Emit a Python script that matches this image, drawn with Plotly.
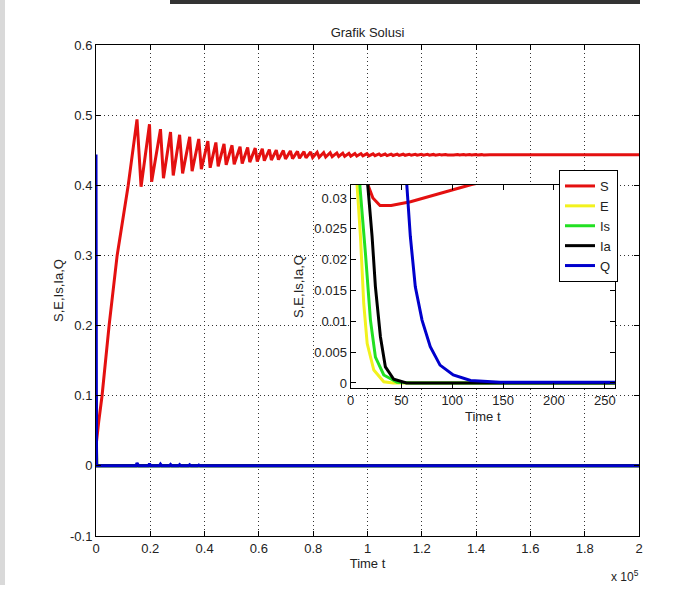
import plotly.graph_objects as go

# ---------------- data ----------------
# S : start, dip (seen in the inset) and first rise
s_early_t = [0, 8, 17, 22, 29, 40, 59, 90, 119, 200, 260, 1000, 2230, 4820, 7790, 11870]
s_early_v = [0.045, 0.038, 0.0322, 0.0300, 0.0288, 0.0288, 0.0294, 0.0308, 0.0322,
             0.0350, 0.0370, 0.063, 0.100, 0.200, 0.300, 0.400]

# S : damped oscillation (peaks and troughs)
s_peak_t = [15100, 19700, 23750, 27450, 30800, 34500, 37850, 41200, 44150, 47150,
            50100, 53050, 55850, 58650, 61250, 63850, 66400, 69000, 71600, 74200,
            76600, 79050, 81450, 83850, 86250, 88700, 90900, 93150, 95350, 97600,
            99800, 102050, 104250, 106500, 108700, 110950, 113150, 115400, 117600, 119850,
            122100, 124300, 126550, 128750, 131000, 133200, 135450, 137650, 139900, 142100]
s_peak_v = [0.494, 0.487, 0.480, 0.476, 0.472, 0.469, 0.466, 0.463, 0.461, 0.459,
            0.457, 0.455, 0.454, 0.453, 0.452, 0.451, 0.4502, 0.4495, 0.4490, 0.4484,
            0.4479, 0.4475, 0.4471, 0.4467, 0.4464, 0.4461, 0.4458, 0.4456, 0.4454, 0.4452,
            0.4450, 0.4449, 0.4447, 0.4446, 0.4445, 0.4444, 0.4443, 0.4442, 0.4442, 0.4441,
            0.4441, 0.4440, 0.4440, 0.4439, 0.4439, 0.4439, 0.4438, 0.4438, 0.4438, 0.4437]
s_trough_t = [16600, 20500, 24850, 28450, 31900, 35400, 38800, 42050, 45000, 47950,
              50900, 53850, 56650, 59400, 62000, 64600, 67200, 69800, 72400, 74950,
              77350, 79800, 82200, 84600, 87000, 89400, 91600, 93850, 96050, 98300,
              100500, 102750, 104950, 107200, 109400, 111650, 113850, 116100, 118300, 120550,
              122800, 125000, 127250, 129450, 131700, 133900, 136150, 138350, 140600, 142800]
s_trough_v = [0.398, 0.405, 0.410, 0.414, 0.417, 0.420, 0.423, 0.425, 0.427, 0.429,
              0.430, 0.431, 0.433, 0.434, 0.435, 0.436, 0.4367, 0.4375, 0.4380, 0.4386,
              0.4391, 0.4396, 0.4400, 0.4403, 0.4407, 0.4410, 0.4412, 0.4415, 0.4417, 0.4419,
              0.4420, 0.4422, 0.4423, 0.4424, 0.4425, 0.4426, 0.4427, 0.4428, 0.4429, 0.4429,
              0.4430, 0.4430, 0.4431, 0.4431, 0.4432, 0.4432, 0.4432, 0.4433, 0.4433, 0.4433]
s_late_t = [145000, 200000]
s_late_v = [0.4435, 0.4435]

# E, Is, Ia : fast decay to zero
e_t = [0, 6.5, 9.8, 13, 16.4, 22.9, 32.7, 42, 260, 200000]
e_v = [0.06, 0.032, 0.0237, 0.0129, 0.0064, 0.0021, 0.0002, 0, 0, 0]
is_t = [0, 9.2, 14.7, 19.6, 24.5, 32.7, 45.8, 60, 260, 200000]
is_v = [0.07, 0.032, 0.021, 0.0102, 0.0042, 0.0013, 0.0001, 0, 0, 0]
ia_t = [0, 17, 21.2, 24.5, 29.4, 34.3, 42.5, 55, 260, 200000]
ia_v = [0.10, 0.032, 0.0238, 0.0156, 0.0075, 0.0026, 0.0006, 0, 0, 0]

# Q : starts at 0.444, decays, small bumps during the S oscillation
q_t = [0, 20, 40, 50, 55, 58.8, 63.7, 70.3, 78.4, 88, 101, 118, 147, 180,
       14700, 15100, 15700, 19300, 19700, 20200, 23350, 23750, 24250,
       27050, 27450, 27950, 30400, 30800, 31300, 34100, 34500, 35000,
       37450, 37850, 38350, 200000]
q_v = [0.444, 0.2, 0.075, 0.045, 0.032, 0.0238, 0.0156, 0.0102, 0.0059, 0.0029, 0.0013,
       0.0004, 0.0001, 0, 0, 0.004, 0, 0, 0.003, 0, 0, 0.0025, 0,
       0, 0.002, 0, 0, 0.0018, 0, 0, 0.0015, 0, 0, 0.0012, 0, 0]

names = ['S', 'E', 'Is', 'Ia', 'Q']
colors = ['#e41010', '#f2f21e', '#22e022', '#000000', '#0000cc']

main_xticks = [0, 20000, 40000, 60000, 80000, 100000, 120000, 140000, 160000, 180000, 200000]
main_xlabels = ['0', '0.2', '0.4', '0.6', '0.8', '1', '1.2', '1.4', '1.6', '1.8', '2']
main_yticks = [-0.1, 0, 0.1, 0.2, 0.3, 0.4, 0.5, 0.6]
main_ylabels = ['-0.1', '0', '0.1', '0.2', '0.3', '0.4', '0.5', '0.6']
inset_xticks = [0, 50, 100, 150, 200, 250]
inset_yticks = [0, 0.005, 0.01, 0.015, 0.02, 0.025, 0.03]
inset_ylabels = ['0', '0.005', '0.01', '0.015', '0.02', '0.025', '0.03']

# ---------------- build series ----------------
osc_t, osc_v = [], []
for pt, pv, tt, tv in zip(s_peak_t, s_peak_v, s_trough_t, s_trough_v):
    osc_t += [pt, tt]
    osc_v += [pv, tv]
s_t = s_early_t + osc_t + s_late_t
s_v = s_early_v + osc_v + s_late_v

series = [(s_t, s_v), (e_t, e_v), (is_t, is_v), (ia_t, ia_v), (q_t, q_v)]

fig = go.Figure()
for (t, v), name, c in zip(series, names, colors):
    fig.add_trace(go.Scatter(x=t, y=v, mode='lines', name=name,
                             line=dict(color=c, width=3), xaxis='x', yaxis='y'))
for (t, v), name, c in zip(series, names, colors):
    fig.add_trace(go.Scatter(x=t, y=v, mode='lines', name=name, showlegend=False,
                             line=dict(color=c, width=3), xaxis='x2', yaxis='y2'))

FONT = 'Liberation Sans, Arial, Helvetica, sans-serif'
TXT = '#222222'

axis_common = dict(ticks='inside', ticklen=5, tickcolor='black', showline=True,
                   linecolor='black', linewidth=1, mirror='ticks', zeroline=False,
                   tickfont=dict(family=FONT, size=13, color=TXT))

fig.update_layout(
    width=696, height=597,
    margin=dict(l=96, r=57, t=45, b=61),
    paper_bgcolor='white', plot_bgcolor='white',
    font=dict(family=FONT, size=13, color=TXT),
    title=dict(text='Grafik Solusi', x=0.5, xref='paper', xanchor='center',
               y=1 - 32 / 597, yref='container', yanchor='middle',
               font=dict(family=FONT, size=13, color=TXT)),
    xaxis=dict(range=[0, 200000], tickvals=main_xticks, ticktext=main_xlabels,
               showgrid=True, gridcolor='#333333', gridwidth=1, griddash='1px,3px',
               title=dict(text='Time t', standoff=4, font=dict(family=FONT, size=13, color=TXT)),
               **axis_common),
    yaxis=dict(range=[-0.1, 0.6], tickvals=main_yticks, ticktext=main_ylabels,
               showgrid=True, gridcolor='#333333', gridwidth=1, griddash='1px,3px',
               title=dict(text='S,E,Is,Ia,Q', standoff=3, font=dict(family=FONT, size=13, color=TXT)),
               **axis_common),
    xaxis2=dict(domain=[0.4687, 0.9558], anchor='y2', range=[0, 260],
                tickvals=inset_xticks, showgrid=False,
                title=dict(text='Time t', standoff=5, font=dict(family=FONT, size=13, color=TXT)),
                **axis_common),
    yaxis2=dict(domain=[0.3016, 0.7147], anchor='x2', range=[-0.0008, 0.0321],
                tickvals=inset_yticks, ticktext=inset_ylabels, showgrid=False,
                title=dict(text='S,E,Is,Ia,Q', standoff=7, font=dict(family=FONT, size=13, color=TXT)),
                **axis_common),
    legend=dict(x=(559 - 96) / 543, y=(536 - 170) / 491, xanchor='left', yanchor='top',
                bgcolor='white', bordercolor='black', borderwidth=1,
                font=dict(family=FONT, size=13, color=TXT), tracegroupgap=0),
    showlegend=True,
)

# white background of the inset axes (covers the main grid)
fig.add_shape(type='rect', xref='x2', yref='y2', x0=0, x1=260, y0=-0.0008, y1=0.0321,
              fillcolor='white', line=dict(width=0), layer='below')
# light grey frame strip at the left edge of the picture
fig.add_shape(type='rect', xref='paper', yref='paper', x0=-96 / 543, x1=-91 / 543,
              y0=(536 - 585) / 491, y1=536 / 491, fillcolor='#d9d9d9', line=dict(width=0))
# dark strip at the top edge of the picture
fig.add_shape(type='rect', xref='paper', yref='paper', x0=(170 - 96) / 543, x1=(640 - 96) / 543,
              y0=(536 - 4) / 491, y1=536 / 491, fillcolor='#333333', line=dict(width=0))

fig.add_annotation(text='x 10<sup>5</sup>', xref='paper', yref='paper',
                   x=(641 - 96) / 543, y=(536 - 576) / 491, xanchor='right', yanchor='middle',
                   showarrow=False, font=dict(family=FONT, size=12, color=TXT))

fig.write_html('out.html', config={'displayModeBar': False},
               post_script="document.body.style.margin='0px';document.body.style.padding='0px';")
